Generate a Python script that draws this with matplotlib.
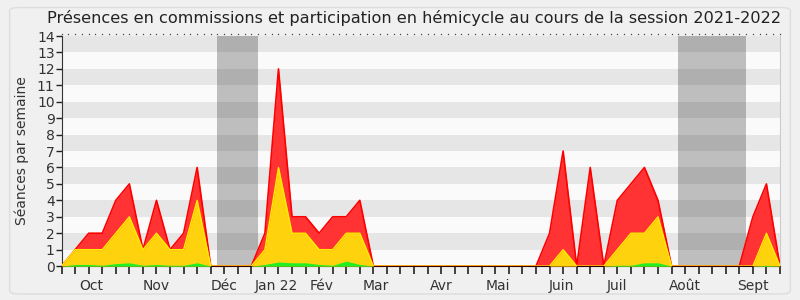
import numpy as np
import matplotlib.pyplot as plt
from matplotlib.patches import FancyBboxPatch

# Weekly values (week index 0..53)
weeks = np.arange(54)
total = [0, 1, 2, 2, 4, 5, 1, 4, 1, 2, 6, 0, 0, 0, 0, 2, 12, 3, 3, 2, 3, 3, 4, 0,
         0, 0, 0, 0, 0, 0, 0, 0, 0, 0, 0, 0, 2, 7, 0, 6, 0, 4, 5, 6, 4, 0,
         0, 0, 0, 0, 0, 3, 5, 0]
hemicycle = [0, 1, 1, 1, 2, 3, 1, 2, 1, 1, 4, 0, 0, 0, 0, 1, 6, 2, 2, 1, 1, 2, 2, 0,
             0, 0, 0, 0, 0, 0, 0, 0, 0, 0, 0, 0, 0, 1, 0, 0, 0, 1, 2, 2, 3, 0,
             0, 0, 0, 0, 0, 0, 2, 0]
interventions = [0, 0.1, 0.1, 0.05, 0.15, 0.2, 0.05, 0.1, 0.05, 0.05, 0.2, 0, 0, 0, 0,
                 0.1, 0.25, 0.2, 0.2, 0.1, 0.05, 0.3, 0.1, 0,
                 0, 0, 0, 0, 0, 0, 0, 0, 0, 0, 0, 0, 0, 0, 0, 0, 0, 0.05, 0.05, 0.2, 0.2, 0,
                 0, 0, 0, 0, 0, 0, 0.05, 0]

vacances = [(11.5, 14.5), (45.5, 50.5)]
mois = ['Oct', 'Nov', 'Déc', 'Jan 22', 'Fév', 'Mar', 'Avr', 'Mai', 'Juin', 'Juil', 'Août', 'Sept']
mois_pos = [2.2, 7, 12, 15.85, 19.15, 23.15, 28, 32.2, 36.9, 41, 46, 51]

fig = plt.figure(figsize=(8, 3), dpi=100, facecolor='#f0f0f0')
fig.patches.append(FancyBboxPatch((0.012, 0.02), 0.976, 0.955, boxstyle='round,pad=0,rounding_size=0.012',
                                  transform=fig.transFigure, facecolor='none',
                                  edgecolor='#dddddd', linewidth=1, zorder=-5))
ax = fig.add_axes([0.077, 0.113, 0.898, 0.767])
ax.set_facecolor('#fafafa')

# horizontal stripes
for i in range(1, 14, 2):
    ax.axhspan(i, i + 1, color='#e6e6e6', lw=0, zorder=0)
for a, b in vacances:
    ax.axvspan(a, b, color='black', alpha=0.24, lw=0, zorder=1)

ax.fill_between(weeks, total, color='#ff3333', lw=0, zorder=2)
ax.plot(weeks, total, color='#ff0000', lw=1.2, zorder=3)
ax.fill_between(weeks, hemicycle, color='#ffd20e', lw=0, zorder=4)
ax.plot(weeks, hemicycle, color='#ffee00', lw=1, zorder=5)
ax.fill_between(weeks, interventions, color='#22ee22', lw=0, zorder=6)

ax.set_xlim(0, 53)
ax.set_ylim(0, 14)
ax.set_yticks(range(15))
ax.tick_params(axis='y', labelsize=10, length=4, width=1, color='#222222',
               labelcolor='#333333', pad=1)
ax.set_xticks(weeks, labels=[''] * len(weeks))
ax.tick_params(axis='x', length=6, width=1.2, color='#222222', pad=0)
for lab, p in zip(mois, mois_pos):
    ax.text(p, -0.055, lab, transform=ax.get_xaxis_transform(), ha='center', va='top',
            fontsize=10, color='#333333')
ax.set_ylabel('Séances par semaine', fontsize=10, color='#333333', labelpad=6)

# dotted top border
ax.spines['top'].set_visible(False)
ax.plot(np.arange(0, 53.01, 0.5), np.full(107, 14.15), ls='none', marker='s',
        ms=0.9, mew=0, color='#444444', clip_on=False)
ax.spines['right'].set_color('#cccccc')
ax.spines['left'].set_color('#333333')
ax.spines['bottom'].set_color('#330000')

fig.text(0.517, 0.94, 'Présences en commissions et participation en hémicycle au cours de la session 2021-2022',
         fontsize=11.6, color='#222222', ha='center', va='center')

fig.savefig('out.png', dpi=100, facecolor=fig.get_facecolor())
